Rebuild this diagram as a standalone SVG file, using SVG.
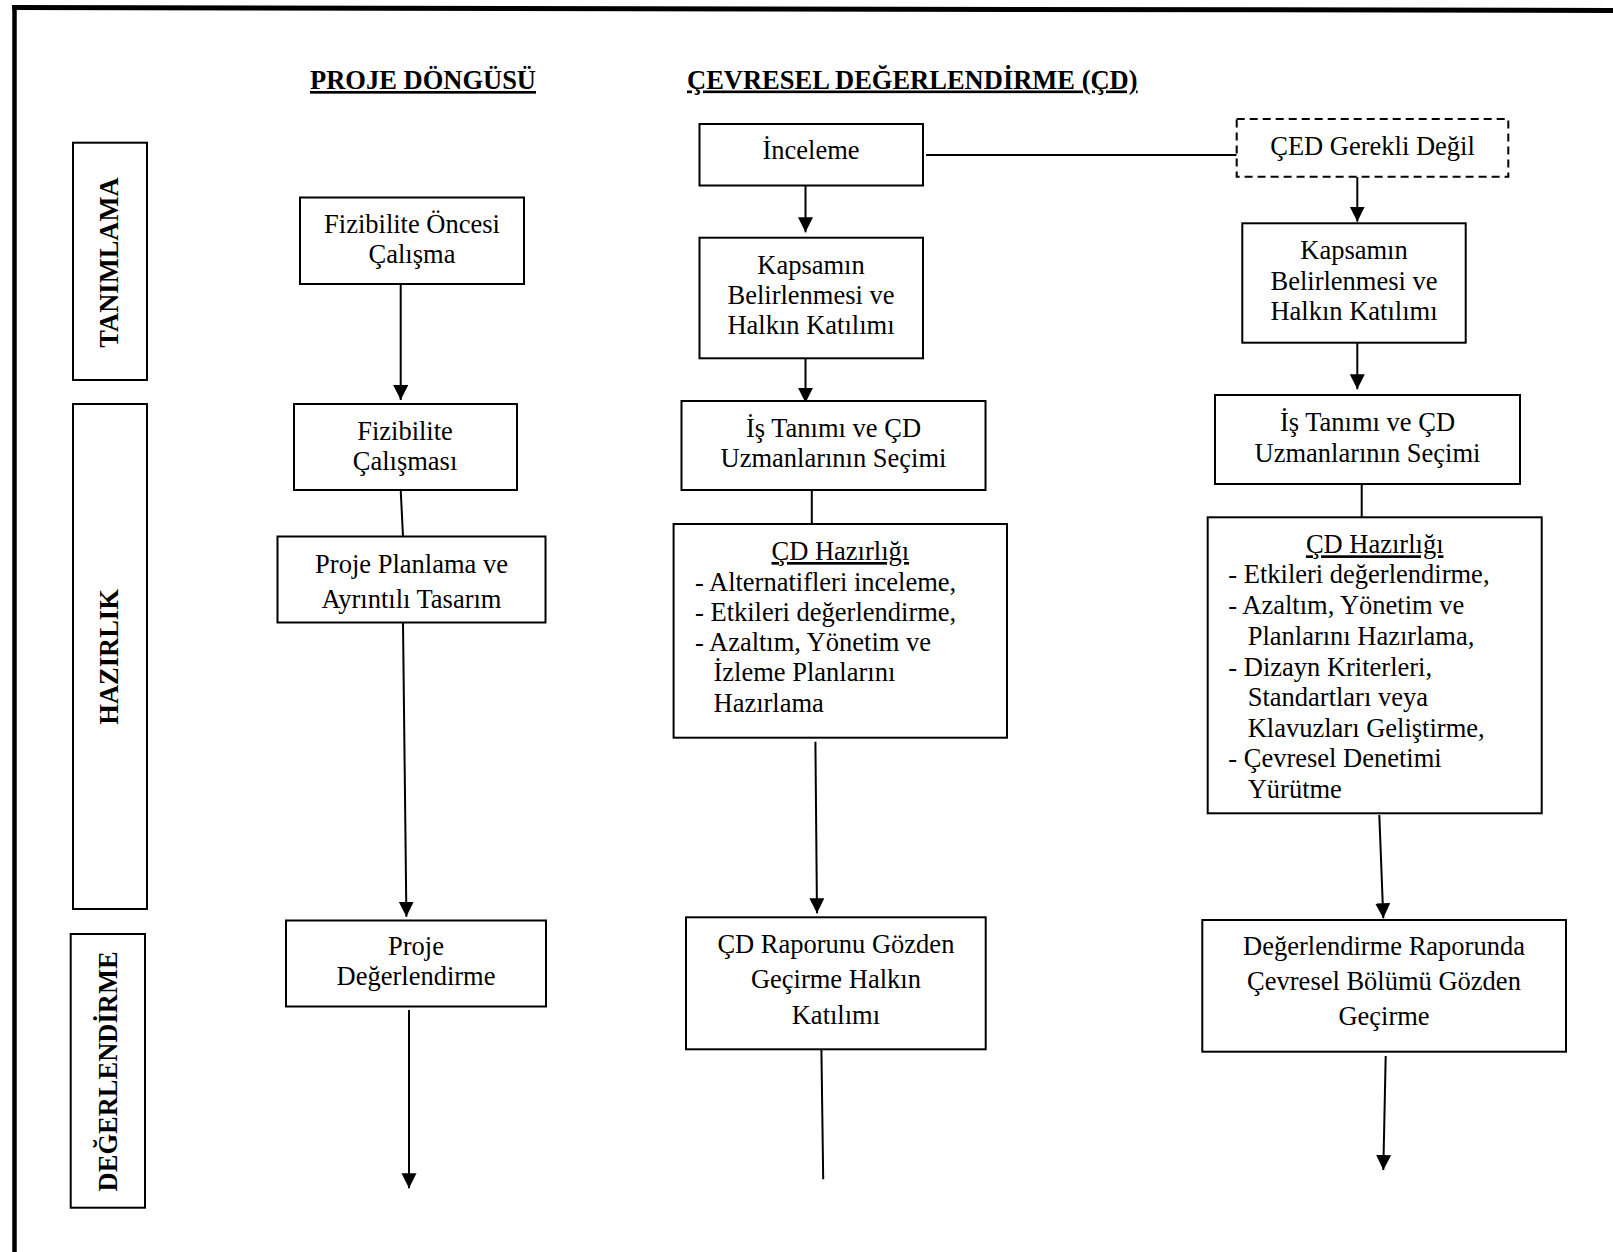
<svg xmlns="http://www.w3.org/2000/svg" width="1613" height="1252" viewBox="0 0 1613 1252">
  <defs>
    <marker id="arrow" markerUnits="userSpaceOnUse" markerWidth="16" markerHeight="16" refX="15" refY="7.5" orient="auto">
      <path d="M0,0 L15,7.5 L0,15 z" fill="#000"/>
    </marker>
    <style>
      text { font-family: "Liberation Serif", "Times New Roman", serif; font-size: 26.5px; fill: #000; }
      .c { text-anchor: middle; }
      .hdr { font-weight: bold; text-decoration: underline; }
      .side { font-weight: bold; text-anchor: middle; }
      .u { text-decoration: underline; }
      .box { fill: #fff; stroke: #000; stroke-width: 2; }
      .dash { fill: #fff; stroke: #000; stroke-width: 2; stroke-dasharray: 8 5; }
      .edge { fill: none; stroke: #000; stroke-width: 2; }
      .arr { marker-end: url(#arrow); }
    </style>
  </defs>
  <rect width="1613" height="1252" fill="#fff"/>

  <!-- page frame -->
  <g id="frame">
    <line x1="12" y1="7.5" x2="1613" y2="10.5" stroke="#000" stroke-width="5"/>
    <line x1="14.5" y1="5" x2="14.5" y2="1252" stroke="#000" stroke-width="4.5"/>
  </g>

  <!-- column headings -->
  <g id="heading-project">
    <text class="hdr" x="310" y="89">PROJE DÖNGÜSÜ</text>
  </g>
  <g id="heading-ea">
    <text class="hdr" x="687" y="88.5">ÇEVRESEL DEĞERLENDİRME (ÇD)</text>
  </g>

  <!-- phase labels -->
  <g id="phase-tanimlama">
    <rect class="box" x="73" y="142.7" width="74" height="237.3"/>
    <text class="side" transform="translate(118,262.5) rotate(-90)">TANIMLAMA</text>
  </g>
  <g id="phase-hazirlik">
    <rect class="box" x="73" y="404" width="74" height="505"/>
    <text class="side" transform="translate(118,657) rotate(-90)">HAZIRLIK</text>
  </g>
  <g id="phase-degerlendirme">
    <rect class="box" x="70.7" y="934" width="74.3" height="273.7"/>
    <text class="side" transform="translate(116.5,1071.4) rotate(-90)">DEĞERLENDİRME</text>
  </g>

  <!-- connectors -->
  <g id="connectors">
    <line class="edge arr" x1="400.7" y1="284" x2="400.7" y2="400"/>
    <line class="edge" x1="400.7" y1="490" x2="403" y2="536.5"/>
    <line class="edge arr" x1="403" y1="622.7" x2="406.4" y2="916.7"/>
    <line class="edge arr" x1="409" y1="1010" x2="409" y2="1188.3"/>

    <line class="edge arr" x1="805.5" y1="185.7" x2="805.5" y2="232.3"/>
    <line class="edge arr" x1="805.5" y1="358.3" x2="805.5" y2="402.7"/>
    <line class="edge" x1="811.8" y1="490" x2="811.8" y2="524"/>
    <line class="edge arr" x1="815.4" y1="741.7" x2="817" y2="913.3"/>
    <line class="edge" x1="821.4" y1="1049.3" x2="823.2" y2="1179.3"/>

    <line class="edge" x1="926" y1="155" x2="1236.7" y2="155"/>

    <line class="edge arr" x1="1357.3" y1="176.7" x2="1357.3" y2="221.7"/>
    <line class="edge arr" x1="1357.3" y1="342.7" x2="1357.3" y2="389.3"/>
    <line class="edge" x1="1361.7" y1="484" x2="1361.7" y2="517.3"/>
    <line class="edge arr" x1="1379.3" y1="815" x2="1383.3" y2="918.3"/>
    <line class="edge arr" x1="1385.7" y1="1056" x2="1383.3" y2="1170"/>
  </g>

  <!-- project cycle column -->
  <g id="fizibilite-oncesi">
    <rect class="box" x="300" y="197.5" width="224" height="86.5"/>
    <text class="c" x="412" y="233.3">Fizibilite Öncesi</text>
    <text class="c" x="412" y="263.3">Çalışma</text>
  </g>
  <g id="fizibilite">
    <rect class="box" x="294" y="404" width="223" height="86"/>
    <text class="c" x="405" y="440">Fizibilite</text>
    <text class="c" x="405" y="470">Çalışması</text>
  </g>
  <g id="proje-planlama">
    <rect class="box" x="277.5" y="536.5" width="268" height="86"/>
    <text class="c" x="411.5" y="572.7">Proje Planlama ve</text>
    <text class="c" x="411.5" y="607.7">Ayrıntılı Tasarım</text>
  </g>
  <g id="proje-degerlendirme">
    <rect class="box" x="286" y="920.5" width="260" height="86"/>
    <text class="c" x="416" y="955">Proje</text>
    <text class="c" x="416" y="985">Değerlendirme</text>
  </g>

  <!-- environmental assessment column -->
  <g id="inceleme">
    <rect class="box" x="699.5" y="124" width="223.5" height="61.5"/>
    <text class="c" x="811" y="159.3">İnceleme</text>
  </g>
  <g id="kapsam-1">
    <rect class="box" x="699.5" y="237.7" width="223.5" height="120.6"/>
    <text class="c" x="811" y="274">Kapsamın</text>
    <text class="c" x="811" y="304">Belirlenmesi ve</text>
    <text class="c" x="811" y="334.3">Halkın Katılımı</text>
  </g>
  <g id="is-tanimi-1">
    <rect class="box" x="681.5" y="401" width="304" height="89"/>
    <text class="c" x="833.5" y="436.7">İş Tanımı ve ÇD</text>
    <text class="c" x="833.5" y="467.3">Uzmanlarının Seçimi</text>
  </g>
  <g id="cd-hazirligi-1">
    <rect class="box" x="673.6" y="524" width="333.4" height="213.7"/>
    <text class="c u" x="840.3" y="560">ÇD Hazırlığı</text>
    <text x="695" y="590.7">- Alternatifleri inceleme,</text>
    <text x="695" y="620.8">- Etkileri değerlendirme,</text>
    <text x="695" y="651">- Azaltım, Yönetim ve</text>
    <text x="713.5" y="681.2">İzleme Planlarını</text>
    <text x="713.5" y="711.5">Hazırlama</text>
  </g>
  <g id="cd-raporu">
    <rect class="box" x="686" y="917.3" width="299.7" height="132"/>
    <text class="c" x="835.9" y="952.7">ÇD Raporunu Gözden</text>
    <text class="c" x="835.9" y="988.3">Geçirme Halkın</text>
    <text class="c" x="835.9" y="1024">Katılımı</text>
  </g>

  <!-- EIA-not-required branch -->
  <g id="ced-gerekli-degil">
    <rect class="dash" x="1236.7" y="119" width="271.6" height="57.7"/>
    <text class="c" x="1372.5" y="155">ÇED Gerekli Değil</text>
  </g>
  <g id="kapsam-2">
    <rect class="box" x="1242.3" y="223.3" width="223.4" height="119.4"/>
    <text class="c" x="1354" y="259.3">Kapsamın</text>
    <text class="c" x="1354" y="290">Belirlenmesi ve</text>
    <text class="c" x="1354" y="320">Halkın Katılımı</text>
  </g>
  <g id="is-tanimi-2">
    <rect class="box" x="1215" y="395" width="305" height="89"/>
    <text class="c" x="1367.5" y="430.7">İş Tanımı ve ÇD</text>
    <text class="c" x="1367.5" y="461.7">Uzmanlarının Seçimi</text>
  </g>
  <g id="cd-hazirligi-2">
    <rect class="box" x="1207.7" y="517.3" width="334" height="296"/>
    <text class="c u" x="1374.7" y="553.3">ÇD Hazırlığı</text>
    <text x="1228.3" y="583.3">- Etkileri değerlendirme,</text>
    <text x="1228.3" y="614.3">- Azaltım, Yönetim ve</text>
    <text x="1247.7" y="645">Planlarını Hazırlama,</text>
    <text x="1228.3" y="675.7">- Dizayn Kriterleri,</text>
    <text x="1247.7" y="706">Standartları veya</text>
    <text x="1247.7" y="736.7">Klavuzları Geliştirme,</text>
    <text x="1228.3" y="767.3">- Çevresel Denetimi</text>
    <text x="1247.7" y="797.7">Yürütme</text>
  </g>
  <g id="degerlendirme-raporu">
    <rect class="box" x="1202.3" y="920" width="363.7" height="131.7"/>
    <text class="c" x="1384" y="955">Değerlendirme Raporunda</text>
    <text class="c" x="1384" y="990">Çevresel Bölümü Gözden</text>
    <text class="c" x="1384" y="1025">Geçirme</text>
  </g>
</svg>
